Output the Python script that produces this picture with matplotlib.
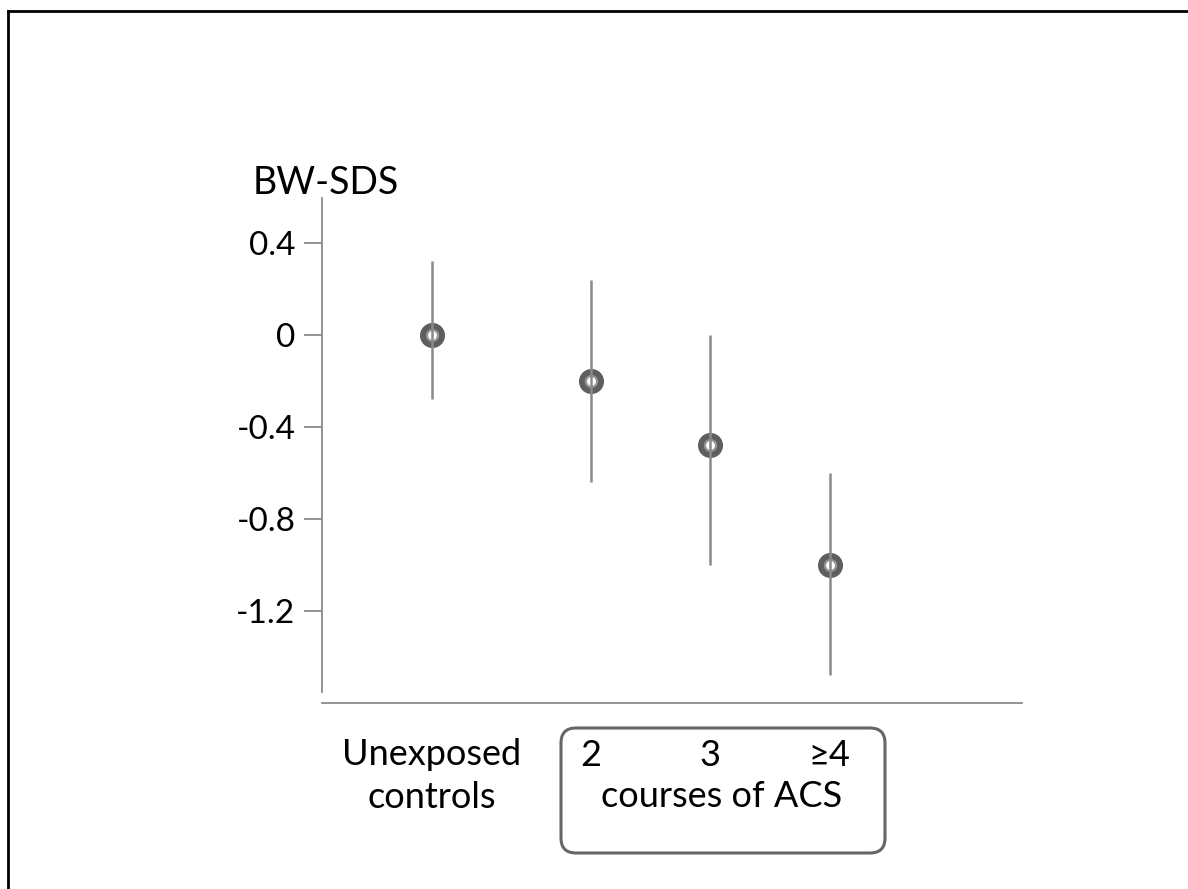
import numpy as np
from matplotlib import pyplot as plt
from matplotlib.patches import FancyBboxPatch
from matplotlib.lines import Line2D
from matplotlib.transforms import IdentityTransform, blended_transform_factory

groups = ["Unexposed\ncontrols", "2", "3", "\u22654"]
xpos = [0, 1.33, 2.33, 3.33]
mean = [0.0, -0.2, -0.48, -1.0]
upper = [0.32, 0.24, 0.0, -0.6]
lower = [-0.28, -0.64, -1.0, -1.48]
yticks = [0.4, 0, -0.4, -0.8, -1.2]
ytick_labels = ["0.4", "0", "-0.4", "-0.8", "-1.2"]

plt.rcParams['font.family'] = ['Lato', 'DejaVu Sans']
W, H = 1188, 889
fig = plt.figure(figsize=[W / 100, H / 100], dpi=100)
ax = fig.add_axes([322 / W, 186 / H, 700 / W, 505 / H])

grey = '#8a8a8a'
ax.vlines(xpos, lower, upper, color=grey, lw=1.8, zorder=4)
ax.plot(xpos, mean, 'o', ms=17, mfc='#5e5e5e', mec='#5e5e5e', zorder=2)
ax.plot(xpos, mean, 'o', ms=8, mfc='white', mec='#959595', mew=1.6, zorder=3)

ax.set_xlim(-0.92, 4.94)
ax.set_ylim(-1.6, 0.5957)
ax.set_yticks(yticks)
ax.set_yticklabels(ytick_labels)
ax.set_xticks([])
for s in ['top', 'right']:
    ax.spines[s].set_visible(False)
ax.spines['left'].set_bounds(-1.552, 0.5957)
ax.spines['left'].set_color(grey)
ax.spines['bottom'].set_color(grey)
ax.spines['left'].set_linewidth(1.3)
ax.spines['bottom'].set_linewidth(1.3)
ax.tick_params(axis='y', length=13, width=1.3, color=grey, pad=6, labelsize=24)

fs = 26
ax.text(0.005, 1.03, "BW-SDS", transform=ax.transAxes, fontsize=27,
        ha='center', va='center')

trans = blended_transform_factory(ax.transData, fig.transFigure)
for i, g in enumerate(groups):
    if i == 0:
        ax.text(xpos[i], 0.127, g, transform=trans, fontsize=fs, ha='center',
                va='center', linespacing=1.35)
    else:
        ax.text(xpos[i], 0.150, g, transform=trans, fontsize=fs, ha='center',
                va='center')
fig.text(722 / W, 0.104, "courses of ACS", fontsize=fs, ha='center', va='center')

box = FancyBboxPatch((576, 51), 294, 95, boxstyle="round,pad=15",
                     transform=IdentityTransform(), fill=False,
                     ec='#666666', lw=2.2)
fig.add_artist(box)

# outer frame (top and left only visible)
fig.add_artist(Line2D([8 / W, 8 / W], [0, 1 - 11 / H], transform=fig.transFigure,
                      color='black', lw=2))
fig.add_artist(Line2D([8 / W, 1], [1 - 11 / H, 1 - 11 / H], transform=fig.transFigure,
                      color='black', lw=2))

plt.savefig('out.png', dpi=100)
